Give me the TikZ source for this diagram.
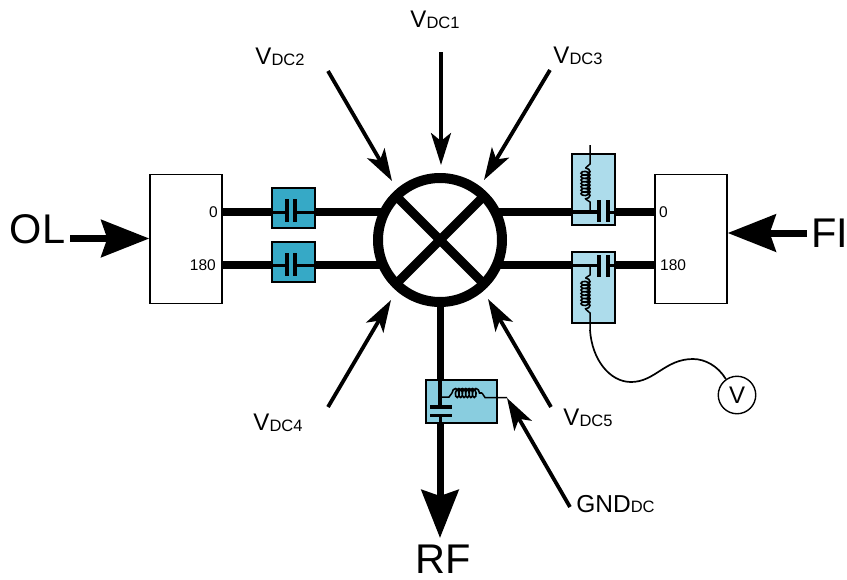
\documentclass[tikz,border=0pt]{standalone}
\usepackage{fontspec}
\setmainfont{Liberation Sans}
\usetikzlibrary{arrows.meta,decorations.pathmorphing}
\definecolor{capdark}{HTML}{36A9C6}
\definecolor{caplight}{HTML}{ADDCEB}
\definecolor{capmid}{HTML}{89CDDF}
\newcommand{\dcsub}[1]{\raisebox{-0.5pt}{\fontsize{16.5}{16.5}\selectfont #1}}
\newcommand{\dclabel}[1]{\fontsize{24}{24}\selectfont V\dcsub{DC#1}}
\tikzset{
  hybrid/.style={draw,line width=1.4pt,fill=white,minimum width=72pt,minimum height=129pt,inner sep=0pt},
  capbox/.style={draw,line width=1.7pt,minimum width=43pt,minimum height=40pt,inner sep=0pt},
  biasbox/.style={draw,line width=1.7pt,fill=caplight,minimum width=43pt,minimum height=71pt,inner sep=0pt},
  port/.style={font=\fontsize{15.5}{15.5}\selectfont,inner sep=0pt},
  bigtext/.style={font=\fontsize{41.5}{41.5}\selectfont,inner sep=0pt},
  dctext/.style={inner sep=0pt},
  thick line/.style={line width=8pt},
  thin line/.style={line width=3pt},
  plate/.style={line width=3.8pt},
  wire/.style={line width=1.5pt},
  coilv/.style={line width=1.6pt,decorate,decoration={coil,aspect=0.6,segment length=3.4pt,amplitude=4.5pt}},
  dcarrow/.style={line width=3.8pt,-{Stealth[length=32pt,width=20pt,inset=8pt]}},
  bigarrow/.style={line width=7pt,-{Stealth[length=48pt,width=37pt,inset=6pt]}},
}
\begin{document}
\begin{tikzpicture}[x=1pt,y=-1pt]
\useasboundingbox (0,0) rectangle (847,579);

\node[draw,circle,line width=10pt,minimum size=124pt,inner sep=0pt,outer sep=0pt] (mix) at (440,240) {};
\draw[line width=9pt] (mix.45) -- (mix.225);
\draw[line width=9pt] (mix.135) -- (mix.315);

\node[hybrid] (left) at (186,239) {};
\node[hybrid] (right) at (691,239) {};
\node[port,anchor=east] (l0) at (218,212) {0};
\node[port,anchor=east] (l180) at (216,265) {180};
\node[port,anchor=west] (r0) at (659,212) {0};
\node[port,anchor=west] (r180) at (660,265) {180};

% dc blocks on the left
\node[capbox,fill=capdark] (capa) at (293.5,208) {};
\node[capbox,fill=capdark] (capb) at (293.5,262) {};
\coordinate (capaw) at (287,212);
\coordinate (capae) at (295,212);
\coordinate (capbw) at (287,265);
\coordinate (capbe) at (295,265);
\draw[thick line] (left.east |- capaw) -- (capa.west |- capaw);
\draw[thick line] (capa.east |- capae) -- (capae -| mix.153);
\draw[thick line] (left.east |- capbw) -- (capb.west |- capbw);
\draw[thick line] (capb.east |- capbe) -- (capbe -| mix.205);
\draw[thin line] (capa.west |- capaw) -- (capaw);
\draw[thin line] (capae) -- (capa.east |- capae);
\draw[thin line] (capb.west |- capbw) -- (capbw);
\draw[thin line] (capbe) -- (capb.east |- capbe);
\draw[plate] (287,199) -- (287,222);
\draw[plate] (295,199) -- (295,222);
\draw[plate] (287,253) -- (287,276);
\draw[plate] (295,253) -- (295,276);

% bias tees on the right
\node[biasbox] (teea) at (593.5,189.5) {};
\node[biasbox] (teeb) at (593.5,287.5) {};
\coordinate (teeaw) at (599,212);
\coordinate (teeae) at (608,212);
\coordinate (teebw) at (599,265);
\coordinate (teebe) at (608,265);
\draw[thick line] (teeaw -| mix.27) -- (teea.west |- teeaw);
\draw[thick line] (teebw -| mix.-25) -- (teeb.west |- teebw);
\draw[thick line] (teea.east |- teeae) -- (right.west |- teeae);
\draw[thick line] (teeb.east |- teebe) -- (right.west |- teebe);
\draw[line width=4.5pt] (teea.west |- teeaw) -- (teeaw);
\draw[thin line] (teeae) -- (teea.east |- teeae);
\draw[thin line] (teeb.west |- teebw) -- (teebw);
\draw[thin line] (teebe) -- (teeb.east |- teebe);
\draw[plate] (599,200) -- (599,222);
\draw[plate] (608,200) -- (608,222);
\draw[plate] (599,255) -- (599,277);
\draw[plate] (608,255) -- (608,277);
\draw[wire] (590,145) -- (590,164) -- (585.5,168);
\draw[coilv] (585.5,168) -- (585.5,199);
\draw[wire] (585.5,199) -- (590,202) -- (590,212);
\draw[wire] (590,265) -- (590,275) -- (585.5,278);
\draw[coilv] (585.5,278) -- (585.5,309);
\draw[wire] (585.5,309) -- (590,313) -- (590,330);

% meter
\node[draw,circle,line width=1.4pt,minimum size=37.5pt,inner sep=0pt,font=\fontsize{24}{24}\selectfont] (meter) at (737,395) {V};
\draw[line width=1.7pt] (590,330) .. controls (592,360) and (610,382) .. (631,382) .. controls (655,382) and (665,359) .. (693,359) .. controls (705,359) and (718,366) .. (meter.125);

% output branch
\node[draw,line width=1.7pt,fill=capmid,minimum width=71pt,minimum height=43pt,inner sep=0pt] (teec) at (461.5,401.5) {};
\draw[line width=7pt] (mix.south) -- (teec.north -| mix.south);
\draw[line width=3.5pt] (teec.north -| mix.south) -- (440,407);
\draw[plate] (430,407) -- (452,407);
\draw[plate] (430,415.5) -- (452,415.5);
\draw[thin line] (440,415) -- (440,423);
\draw[wire] (440,397) -- (449,397) -- (452,393);
\draw[coilv] (452,393) -- (482,393);
\draw[wire] (482,393) -- (485,397.5) -- (507,397.5);
\coordinate (teecs) at (440,423);
\coordinate (rfend) at (440,538);
\draw[bigarrow] (teecs) -- (rfend);

% labels and arrows
\node[dctext] (dca) at (435,20) {\dclabel{1}};
\node[dctext] (dcb) at (280,57) {\dclabel{2}};
\node[dctext] (dcc) at (578,56) {\dclabel{3}};
\node[dctext] (dcd) at (278,423) {\dclabel{4}};
\node[dctext] (dce) at (588,418) {\dclabel{5}};
\node[dctext] (gnd) at (615.5,504) {\fontsize{24.5}{24.5}\selectfont GND\dcsub{DC}};
\coordinate (dcafrom) at (441,52);
\coordinate (dcbfrom) at (328,71);
\coordinate (dccfrom) at (550,70);
\coordinate (dcdfrom) at (328,407);
\coordinate (dcefrom) at (551,407);
\coordinate (gndfrom) at (570,507);
\coordinate (gndto) at (507,398);
\draw[dcarrow] (dcafrom) -- (441,165);
\draw[dcarrow] (dcbfrom) -- (392,181);
\draw[dcarrow] (dccfrom) -- (484,180);
\draw[dcarrow] (dcdfrom) -- (391,300);
\draw[dcarrow] (dcefrom) -- (488,299);
\draw[dcarrow] (gndfrom) -- (gndto);

\node[bigtext] (ol) at (37.5,229) {OL};
\node[bigtext] (fi) at (830,233) {FI};
\node[bigtext] (rf) at (443,559) {RF};
\coordinate (olfrom) at (70,238.5);
\coordinate (fifrom) at (807,233);
\draw[bigarrow] (olfrom) -- (left.west |- olfrom);
\draw[bigarrow] (fifrom) -- (right.east |- fifrom);
\end{tikzpicture}
\end{document}
